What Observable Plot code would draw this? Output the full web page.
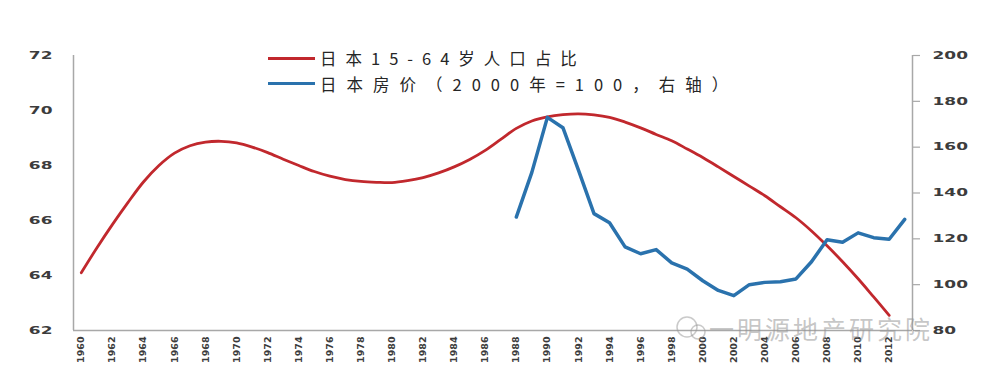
<!DOCTYPE html>
<html>
<head>
<meta charset="utf-8">
<script src="https://cdn.jsdelivr.net/npm/d3@7"></script>
<script src="https://cdn.jsdelivr.net/npm/@observablehq/plot@0.6"></script>
<style>
  html, body { margin: 0; padding: 0; background: #fff; }
  #wrap { position: relative; width: 1000px; height: 378px; overflow: hidden; background: #fff; }
  .legend { position: absolute; left: 268px; font-family: "Noto Sans CJK SC", "Noto Sans", sans-serif; font-size: 16.5px; color: #262626; display: flex; align-items: center; height: 24px; white-space: nowrap; }
  .legend .swatch { width: 47px; height: 3px; margin-right: 5px; }
  .wm { position: absolute; left: 673px; top: 310px; font-family: "Noto Sans CJK SC", sans-serif; font-size: 25px; letter-spacing: 3px; color: rgba(150,150,150,0.55); white-space: nowrap; display: flex; align-items: center; }
</style>
</head>
<body>
<div id="wrap"></div>
<script>
// ---- data ----
const popYears = [1960,1961,1962,1963,1964,1965,1966,1967,1968,1969,
                  1970,1971,1972,1973,1974,1975,1976,1977,1978,1979,
                  1980,1981,1982,1983,1984,1985,1986,1987,1988,1989,
                  1990,1991,1992,1993,1994,1995,1996,1997,1998,1999,
                  2000,2001,2002,2003,2004,2005,2006,2007,2008,2009,
                  2010,2011,2012];
const popShare = [64.1,65.0,65.85,66.65,67.4,68.0,68.45,68.72,68.85,68.88,
                  68.82,68.67,68.47,68.23,68.0,67.78,67.61,67.49,67.42,67.39,
                  67.38,67.45,67.56,67.73,67.95,68.22,68.55,68.95,69.35,69.62,
                  69.77,69.85,69.88,69.84,69.75,69.58,69.37,69.13,68.9,68.6,
                  68.29,67.95,67.6,67.25,66.9,66.5,66.1,65.62,65.08,64.5,
                  63.88,63.22,62.55];
const priceYears = [1988,1989,1990,1991,1992,1993,1994,1995,1996,1997,
                    1998,1999,2000,2001,2002,2003,2004,2005,2006,2007,
                    2008,2009,2010,2011,2012,2013];
const priceIndex = [129.5,149,173,168.5,150,131,127,116.5,113.5,115.3,
                    109.5,106.8,101.7,97.5,95.2,100,101,101.3,102.5,110,
                    119.6,118.5,122.6,120.5,119.8,128.5];
const xTickYears = [1960,1962,1964,1966,1968,1970,1972,1974,1976,1978,1980,1982,1984,1986,
                    1988,1990,1992,1994,1996,1998,2000,2002,2004,2006,2008,2010,2012];
const leftTicks = [62,64,66,68,70,72];
const rightTicks = [80,100,120,140,160,180,200];
const seriesNames = ["日本15-64岁人口占比", "日本房价（2000年=100，右轴）"];
const seriesColors = ["#c1282d", "#2a72ad"];
const legendSpacing = [9, 10];

// ---- scales ----
const leftDomain = [62, 72];
const rightDomain = [80, 200];
const xDomain = [1959.5, 2013.5];
const toLeft = d3.scaleLinear(rightDomain, leftDomain);
const toRight = toLeft.invert;

const popData = popYears.map((year, i) => ({year, value: popShare[i]}));
const priceData = priceYears.map((year, i) => ({year, value: toLeft(priceIndex[i])}));

const axisColor = "#a8a8a8";
const plot = Plot.plot({
  width: 1000,
  height: 378,
  marginLeft: 73,
  marginRight: 88,
  marginTop: 55,
  marginBottom: 48,
  style: {fontFamily: "DejaVu Sans", fontWeight: "bold", color: "#3c3c3c", background: "#fff", overflow: "visible"},
  x: {domain: xDomain, axis: null, label: null},
  y: {domain: leftDomain, axis: null, label: null},
  marks: [
    Plot.ruleX(xDomain, {stroke: axisColor, strokeWidth: 1.5}),
    Plot.ruleY([leftDomain[0]], {stroke: axisColor, strokeWidth: 1.5}),
    Plot.axisY({anchor: "left", ticks: leftTicks, tickSize: 0, tickPadding: 21, label: null, fontSize: 10}),
    Plot.axisY({anchor: "right", ticks: rightTicks.map(toLeft), tickFormat: d => String(Math.round(toRight(d))),
                tickSize: 7, tickPadding: 13, stroke: axisColor, strokeWidth: 1.2, label: null, fontSize: 10}),
    Plot.axisX({ticks: xTickYears, tickFormat: d => String(d), tickRotate: -90, tickSize: 0, tickPadding: 6, label: null, fontSize: 9.5}),
    Plot.line(popData, {x: "year", y: "value", stroke: seriesColors[0], strokeWidth: 2.8, curve: "catmull-rom"}),
    Plot.line(priceData, {x: "year", y: "value", stroke: seriesColors[1], strokeWidth: 3.5, strokeLinejoin: "round"})
  ]
});

const wrap = document.getElementById("wrap");
wrap.appendChild(plot);

// stretch y tick labels horizontally like the reference
plot.querySelectorAll('g[aria-label="y-axis tick label"] text').forEach(t => {
  const bb = t.getBBox();
  const r = t.getBoundingClientRect();
  const isLeft = r.x < 500;
  const ax = isLeft ? bb.x + bb.width : bb.x;
  const prev = t.getAttribute("transform") || "";
  t.setAttribute("transform", `${prev} translate(${ax},0) scale(1.7,1) translate(${-ax},0)`);
});

// legend
seriesNames.forEach((name, i) => {
  const row = document.createElement("div");
  row.className = "legend";
  row.style.top = (46 + i * 25.5) + "px";
  row.style.letterSpacing = legendSpacing[i] + "px";
  const sw = document.createElement("div");
  sw.className = "swatch";
  sw.style.background = seriesColors[i];
  const tx = document.createElement("span");
  tx.textContent = name;
  row.appendChild(sw);
  row.appendChild(tx);
  wrap.appendChild(row);
});

// watermark
const wm = document.createElement("div");
wm.className = "wm";
wm.innerHTML = '<svg width="36" height="30" style="margin-right:0px"><circle cx="14" cy="14" r="10" fill="none" stroke="rgba(150,150,150,0.5)" stroke-width="1.5"/><circle cx="25" cy="19" r="7" fill="none" stroke="rgba(150,150,150,0.5)" stroke-width="1.5"/></svg><span>一明源地产研究院</span>';
wrap.appendChild(wm);
</script>
</body>
</html>
